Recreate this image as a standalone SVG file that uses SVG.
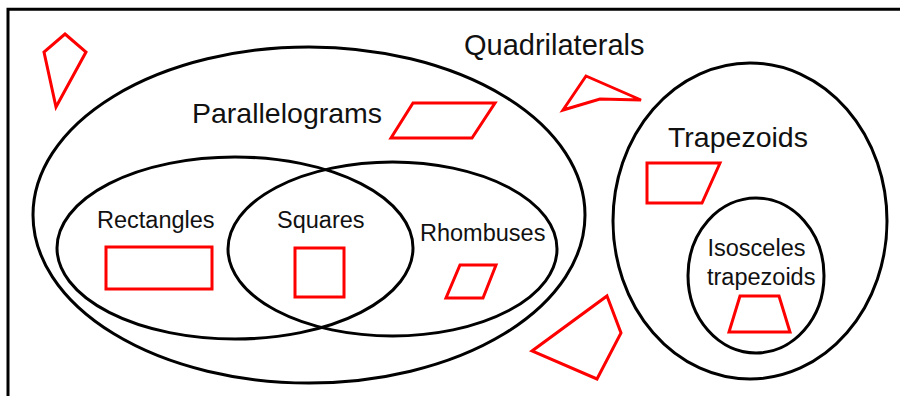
<svg xmlns="http://www.w3.org/2000/svg" width="900" height="396" viewBox="0 0 900 396">
<style>
.set{fill:none;stroke:#000;stroke-width:3}
.shape{fill:none;stroke:#ff0000;stroke-width:3;stroke-linejoin:miter}
.big{font-family:"Liberation Sans",Arial,sans-serif;font-size:28.5px;fill:#111}
.small{font-family:"Liberation Sans",Arial,sans-serif;font-size:23.5px;fill:#111}
</style>
<rect width="900" height="396" fill="#fff"/>
<g id="quadrilaterals">
<path class="set" d="M8,400 V9.3 H905"/>
<text class="big" x="464" y="55" style="font-size:29px">Quadrilaterals</text>
<polygon class="shape" points="65,34 86,52 56,107 44,52"/>
<polygon class="shape" points="586,76 641,100 600,99 563,110"/>
<polygon class="shape" points="607,296 621,333 597,379 532,351"/>
</g>
<g id="parallelograms">
<ellipse class="set" cx="309" cy="215" rx="276" ry="168"/>
<text class="big" x="192" y="123">Parallelograms</text>
<polygon class="shape" points="413,103 495,103 472,138 391,138"/>
</g>
<g id="rectangles">
<ellipse class="set" cx="235" cy="248" rx="178" ry="91"/>
<text class="small" x="97" y="228">Rectangles</text>
<rect class="shape" x="106" y="247" width="106" height="42"/>
</g>
<g id="rhombuses">
<ellipse class="set" cx="392.5" cy="249" rx="164.5" ry="87"/>
<text class="small" x="420" y="241">Rhombuses</text>
<polygon class="shape" points="460,265 496,265 483,298 446,298"/>
</g>
<g id="squares">
<text class="small" x="277" y="228">Squares</text>
<rect class="shape" x="295" y="248" width="49" height="49"/>
</g>
<g id="trapezoids">
<ellipse class="set" cx="750" cy="221" rx="137" ry="158"/>
<text class="big" x="668" y="147">Trapezoids</text>
<polygon class="shape" points="647,163 720,163 702,203 647,203"/>
</g>
<g id="isosceles-trapezoids">
<ellipse class="set" cx="756" cy="275.5" rx="68" ry="77.5"/>
<text class="small" x="707.5" y="256">Isosceles</text>
<text class="small" x="707" y="285">trapezoids</text>
<polygon class="shape" points="740,296 779,296 790,332 729,332"/>
</g>
<g id="connectors"/>
</svg>
